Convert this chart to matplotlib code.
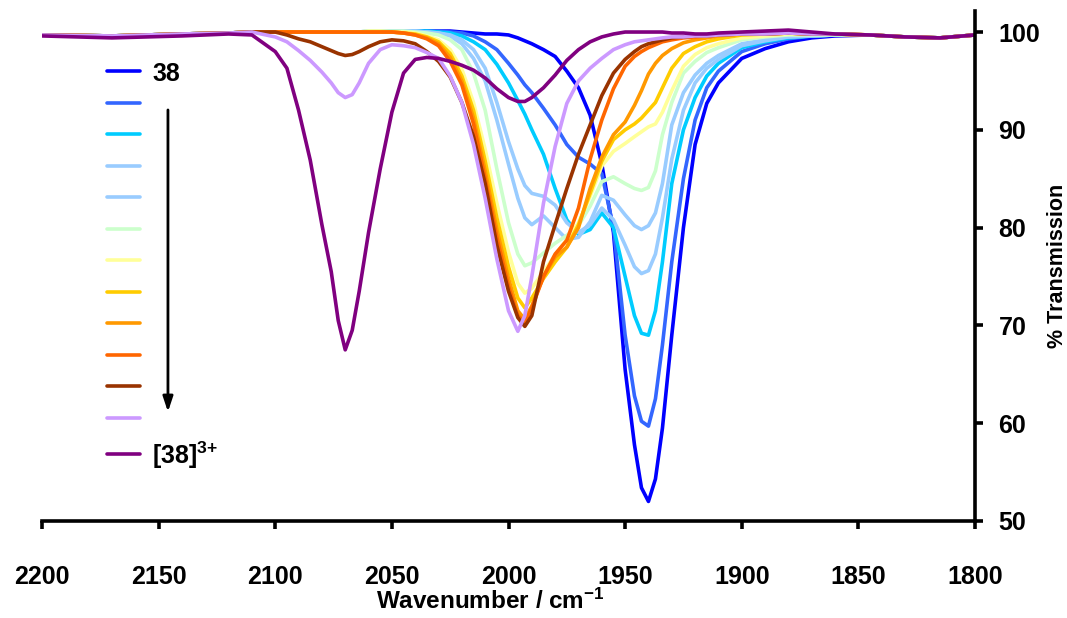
import matplotlib
matplotlib.use("Agg")
import matplotlib.pyplot as plt

plt.rcParams["font.family"] = ["Liberation Sans", "DejaVu Sans"]
plt.rcParams["font.weight"] = "bold"
plt.rcParams["mathtext.fontset"] = "custom"
plt.rcParams["mathtext.rm"] = "Liberation Sans:bold"
plt.rcParams["mathtext.bf"] = "Liberation Sans:bold"
plt.rcParams["mathtext.default"] = "bf"

# wavenumber grid (cm-1) shared by all spectra
wavenumber = [2200, 2170, 2140, 2120, 2110,
              2100, 2095, 2090, 2085, 2080,
              2076, 2073, 2070, 2067, 2064,
              2060, 2055, 2050, 2045, 2040,
              2035, 2030, 2025, 2020, 2015,
              2010, 2005, 2000, 1996, 1993,
              1990, 1985, 1980, 1975, 1970,
              1965, 1960, 1955, 1950, 1946,
              1943, 1940, 1937, 1934, 1930,
              1925, 1920, 1915, 1910, 1900,
              1890, 1880, 1870, 1860, 1845,
              1830, 1815, 1800]

# % transmission (38 -> [38]3+)
t_38 = [99.7, 99.6, 99.8, 99.9, 100.0,
        100.0, 100.0, 100.0, 100.0, 100.0,
        100.0, 100.0, 100.0, 100.0, 100.0,
        100.0, 100.1, 100.1, 100.1, 100.1,
        100.1, 100.1, 100.1, 100.0, 99.9,
        99.8, 99.8, 99.7, 99.4, 99.1,
        98.8, 98.2, 97.5, 96.0, 94.3,
        91.5, 86.5, 79.5, 65.5, 57.8,
        53.4, 52.0, 54.3, 59.5, 69.0,
        80.0, 88.5, 92.7, 94.8, 97.3,
        98.3, 99.0, 99.4, 99.6, 99.7,
        99.5, 99.4, 99.7]
t_2 = [99.7, 99.6, 99.8, 99.9, 100.0,
       100.0, 100.0, 100.0, 100.0, 100.0,
       100.0, 100.0, 100.0, 100.0, 100.0,
       100.0, 100.1, 100.1, 100.1, 100.1,
       100.1, 100.1, 100.0, 99.9, 99.6,
       99.0, 98.2, 96.8, 95.6, 94.6,
       93.8, 92.2, 90.5, 88.5, 87.2,
       86.5, 85.5, 80.0, 69.0, 62.8,
       60.2, 59.7, 62.5, 68.0, 76.5,
       85.0, 91.0, 94.3, 96.0, 98.0,
       98.8, 99.3, 99.6, 99.7, 99.7,
       99.5, 99.4, 99.7]
t_3 = [99.7, 99.6, 99.8, 99.9, 100.0,
       100.0, 100.0, 100.0, 100.0, 100.0,
       100.0, 100.0, 100.0, 100.0, 100.0,
       100.0, 100.1, 100.1, 100.1, 100.1,
       100.1, 100.0, 99.9, 99.6, 99.0,
       98.2, 96.7, 94.8, 93.0, 91.6,
       90.0, 87.5, 84.0, 80.8, 79.3,
       79.8, 81.5, 80.0, 75.0, 71.0,
       69.2, 69.0, 71.5, 76.5, 84.5,
       90.0, 93.3, 95.5, 96.8, 98.4,
       99.0, 99.4, 99.6, 99.7, 99.7,
       99.5, 99.4, 99.7]
t_4 = [99.7, 99.6, 99.8, 99.9, 100.0,
       100.0, 100.0, 100.0, 100.0, 100.0,
       100.0, 100.0, 100.0, 100.0, 100.0,
       100.1, 100.1, 100.1, 100.1, 100.1,
       100.0, 99.9, 99.7, 99.2, 98.2,
       96.3, 92.8, 88.8, 86.0, 84.3,
       83.5, 83.2, 82.3, 80.5, 79.5,
       80.3, 82.0, 80.8, 78.2, 76.0,
       75.3, 75.6, 77.3, 81.0, 87.0,
       92.0, 94.8, 96.3, 97.2, 98.6,
       99.1, 99.5, 99.6, 99.7, 99.7,
       99.5, 99.4, 99.7]
t_5 = [99.7, 99.6, 99.8, 99.9, 100.0,
       100.0, 100.0, 100.0, 100.0, 100.0,
       100.0, 100.0, 100.0, 100.0, 100.0,
       100.1, 100.1, 100.1, 100.1, 100.1,
       100.0, 99.9, 99.6, 98.8, 97.3,
       95.0, 91.0, 86.5, 83.0, 81.0,
       80.3, 81.2, 80.0, 78.8, 79.0,
       80.6, 83.3, 82.8, 81.3, 80.2,
       79.8, 80.2, 81.5, 84.5, 90.5,
       93.8, 95.6, 96.8, 97.6, 98.8,
       99.2, 99.5, 99.6, 99.7, 99.7,
       99.5, 99.4, 99.7]
t_6 = [99.7, 99.6, 99.8, 99.9, 100.0,
       100.0, 100.0, 100.0, 100.0, 100.0,
       100.0, 100.0, 100.0, 100.0, 100.0,
       100.1, 100.1, 100.1, 100.1, 100.0,
       99.9, 99.7, 99.2, 98.2, 95.8,
       92.0, 86.0, 80.5, 77.3, 76.1,
       76.4, 77.4, 78.4, 79.2, 80.2,
       82.2, 84.7, 85.2, 84.5, 84.0,
       83.8, 84.1, 85.8, 89.5, 92.8,
       95.8, 97.0, 97.9, 98.4, 99.2,
       99.5, 99.7, 99.7, 99.7, 99.7,
       99.5, 99.4, 99.7]
t_7 = [99.7, 99.6, 99.8, 99.9, 100.0,
       100.0, 100.0, 100.0, 100.0, 100.0,
       100.0, 100.0, 100.0, 100.0, 100.0,
       100.1, 100.1, 100.0, 100.0, 99.9,
       99.6, 99.2, 98.2, 96.2, 92.8,
       88.0, 82.5, 77.5, 74.3, 73.3,
       73.8, 75.5, 77.2, 78.8, 80.5,
       83.2, 86.3, 87.8, 88.6, 89.3,
       89.8, 90.3, 90.6, 91.8, 94.0,
       96.5, 97.7, 98.4, 98.8, 99.4,
       99.6, 99.8, 99.8, 99.8, 99.7,
       99.5, 99.4, 99.7]
t_8 = [99.7, 99.6, 99.8, 99.9, 100.0,
       100.0, 100.0, 100.0, 100.0, 100.0,
       100.0, 100.0, 100.0, 100.0, 100.0,
       100.0, 100.0, 100.0, 99.9, 99.8,
       99.5, 99.0, 97.8, 95.5, 92.0,
       86.8, 81.0, 76.0, 72.8, 71.8,
       72.8, 74.8, 76.5, 78.0, 80.3,
       83.5, 86.8, 89.0, 90.0, 90.6,
       91.2, 92.0, 92.8, 94.3, 96.3,
       97.8, 98.5, 99.0, 99.3, 99.7,
       99.8, 99.9, 99.8, 99.8, 99.7,
       99.5, 99.4, 99.7]
t_9 = [99.7, 99.6, 99.8, 99.9, 100.0,
       100.0, 100.0, 100.0, 100.0, 100.0,
       100.0, 100.0, 100.0, 100.0, 100.0,
       100.0, 100.0, 100.0, 99.9, 99.7,
       99.4, 98.8, 97.4, 95.0, 91.2,
       85.8, 79.8, 74.8, 71.5, 70.6,
       72.0, 75.0, 77.0, 78.0, 80.0,
       84.0, 87.2, 89.5, 90.8, 92.5,
       94.0, 95.7, 96.8, 97.6, 98.3,
       98.9, 99.2, 99.4, 99.6, 99.8,
       99.8, 99.9, 99.8, 99.8, 99.7,
       99.5, 99.4, 99.7]
t_10 = [99.7, 99.6, 99.8, 99.9, 100.0,
        100.0, 100.0, 100.0, 100.0, 100.0,
        100.0, 100.0, 100.0, 100.0, 100.0,
        100.0, 100.0, 100.0, 99.9, 99.7,
        99.3, 98.6, 97.0, 94.6, 90.6,
        85.0, 79.0, 74.0, 71.0, 70.3,
        71.8, 75.0, 77.3, 78.7, 82.0,
        87.0, 91.0, 94.2, 96.5, 97.5,
        98.0, 98.4, 98.7, 99.0, 99.2,
        99.4, 99.5, 99.6, 99.7, 99.8,
        99.8, 99.9, 99.8, 99.8, 99.7,
        99.5, 99.4, 99.7]
t_11 = [99.7, 99.6, 99.8, 99.9, 100.0,
        100.0, 99.7, 99.3, 99.0, 98.5,
        98.1, 97.8, 97.6, 97.7, 98.0,
        98.5, 99.0, 99.2, 99.1, 98.8,
        98.0, 97.0, 95.4, 92.8, 89.3,
        84.5, 78.2, 73.5, 70.8, 69.9,
        71.0, 76.5, 80.3, 84.0, 87.5,
        90.5, 93.5, 95.8, 97.2, 98.0,
        98.5, 98.8, 99.0, 99.2, 99.4,
        99.5, 99.6, 99.6, 99.7, 99.8,
        99.8, 99.9, 99.8, 99.8, 99.7,
        99.5, 99.4, 99.7]
t_12 = [99.7, 99.6, 99.8, 99.9, 100.0,
        99.5, 99.0, 98.1, 97.1, 95.9,
        94.8, 93.8, 93.3, 93.6, 94.8,
        96.8, 98.2, 98.7, 98.6, 98.4,
        97.9, 97.3, 95.5, 92.8, 88.5,
        83.0, 76.8, 71.5, 69.4, 71.0,
        75.0, 82.5, 88.3, 92.7, 95.0,
        96.3, 97.3, 98.2, 98.7, 99.0,
        99.1, 99.2, 99.3, 99.4, 99.5,
        99.5, 99.6, 99.6, 99.7, 99.8,
        99.8, 99.9, 99.8, 99.8, 99.7,
        99.5, 99.4, 99.7]
t_38_3plus = [99.6, 99.4, 99.6, 99.8, 99.7,
              98.0, 96.3, 92.0, 86.9, 80.3,
              75.5, 70.5, 67.5, 69.5, 73.5,
              79.5, 86.0, 91.8, 95.8, 97.2,
              97.4, 97.3, 97.0, 96.6, 96.1,
              95.3, 94.2, 93.3, 92.9, 92.9,
              93.3, 94.3, 95.6, 97.1, 98.2,
              99.0, 99.5, 99.8, 100.0, 100.0,
              100.0, 100.0, 100.0, 100.0, 99.9,
              99.9, 99.8, 99.8, 99.9, 100.0,
              100.1, 100.2, 100.0, 99.8, 99.7,
              99.5, 99.4, 99.7]

spectra = [t_38, t_2, t_3, t_4, t_5, t_6, t_7, t_8, t_9, t_10, t_11, t_12, t_38_3plus]
labels = ["38"] + [""] * 11 + ["[38]$^{3{+}}$"]
colors = ["#0000FF", "#3366FF", "#00CCFF", "#99CCFF", "#99CCFF", "#CCFFCC",
          "#FFFF99", "#FFCC00", "#FF9900", "#FF6600", "#993300", "#CC99FF",
          "#800080"]

fig = plt.figure(figsize=(10.67, 6.18), dpi=100)
ax = fig.add_axes([42 / 1067, 97 / 618, 933 / 1067, 510 / 618])

lines = []
for t, color, label in zip(spectra, colors, labels):
    (ln,) = ax.plot(wavenumber, t, color=color, lw=2.6, label=label,
                    solid_joinstyle="round", solid_capstyle="round")
    lines.append(ln)

ax.set_xlim(2200, 1800)
ax.set_ylim(50, 102.15)
ax.set_xticks(range(2200, 1799, -50))
ax.set_yticks(range(50, 101, 10))

ax.spines["left"].set_visible(False)
ax.spines["top"].set_visible(False)
for side in ("right", "bottom"):
    ax.spines[side].set_linewidth(2.6)
ax.yaxis.tick_right()
ax.yaxis.set_label_position("right")
ax.tick_params(axis="both", direction="out", length=6, width=2.6, labelsize=18)
ax.tick_params(axis="x", pad=26)
ax.tick_params(axis="y", pad=11)

ax.set_xlabel("Wavenumber / cm$^{-1}$", fontsize=17.5, fontweight="bold")
ax.xaxis.set_label_coords(0.481, -0.133)
ax.set_ylabel("% Transmission", fontsize=15.5, fontweight="bold", labelpad=5)

ax.legend(lines, labels, loc="upper left", bbox_to_anchor=(0.0697, 0.901),
          frameon=False, fontsize=18, handlelength=1.32, handleheight=1.0,
          handletextpad=0.48, labelspacing=0.27, borderpad=0, borderaxespad=0)

ax.annotate("", xy=(0.135, 0.214), xytext=(0.135, 0.806), xycoords="axes fraction",
            arrowprops=dict(arrowstyle="-|>,head_width=0.3,head_length=0.9",
                            color="black", lw=2, shrinkA=0, shrinkB=0))

fig.savefig("out.png", dpi=100)
